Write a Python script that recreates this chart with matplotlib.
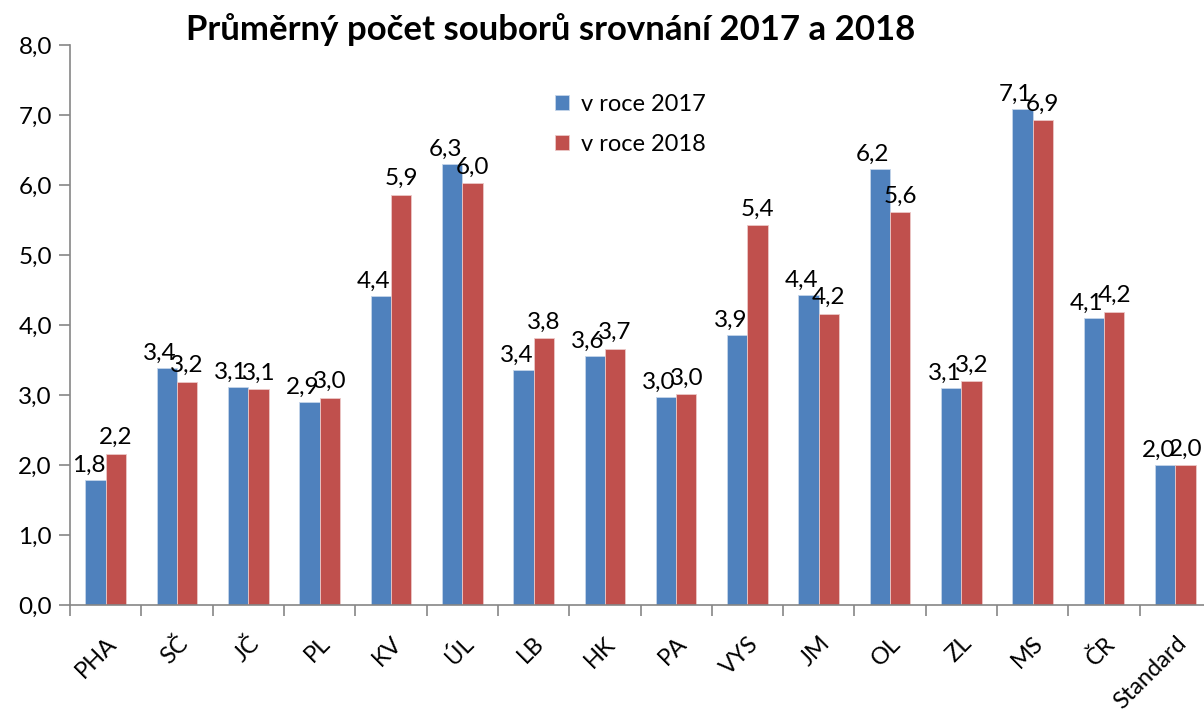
import numpy as np
import matplotlib
matplotlib.use("Agg")
import matplotlib.pyplot as plt
from matplotlib.ticker import FuncFormatter, FixedLocator

plt.rcParams['font.family'] = ['Lato', 'DejaVu Sans']

regions = ['PHA', 'SČ', 'JČ', 'PL', 'KV', 'ÚL', 'LB', 'HK', 'PA', 'VYS',
           'JM', 'OL', 'ZL', 'MS', 'ČR', 'Standard']
v2017 = [1.79, 3.38, 3.11, 2.90, 4.41, 6.30, 3.36, 3.56, 2.97, 3.86,
         4.43, 6.23, 3.10, 7.09, 4.10, 2.00]
v2018 = [2.16, 3.19, 3.08, 2.96, 5.86, 6.03, 3.81, 3.66, 3.01, 5.43,
         4.16, 5.61, 3.20, 6.93, 4.19, 2.00]

blue = '#4F81BD'
red = '#C0504D'
axis_gray = '#868686'

fig = plt.figure(figsize=(12.04, 7.11), dpi=100)
ax = fig.add_axes([70/1204, 1-605/711, 1141/1204, 560/711])

x = np.arange(len(regions))
w = 0.285
b1 = ax.bar(x - w/2, v2017, w, color=blue, edgecolor='#c5d5ea', linewidth=0.6, label='v roce 2017')
b2 = ax.bar(x + w/2, v2018, w, color=red, edgecolor='#ecc8c7', linewidth=0.6, label='v roce 2018')

def fmt(v):
    return f'{v:.1f}'.replace('.', ',')

for rect, v in zip(b1, v2017):
    ax.annotate(fmt(v), (rect.get_x() + rect.get_width()/2, v), xytext=(-5, 3),
                textcoords='offset points', ha='center', va='bottom', fontsize=17.5)
for rect, v in zip(b2, v2018):
    ax.annotate(fmt(v), (rect.get_x() + rect.get_width()/2, v), xytext=(0, 4),
                textcoords='offset points', ha='center', va='bottom', fontsize=17.5)

ax.set_xlim(-0.5, len(regions) - 0.5)
ax.set_ylim(0, 8)
ax.set_yticks(np.arange(0, 9, 1))
ax.yaxis.set_major_formatter(FuncFormatter(lambda v, p: fmt(v)))
ax.set_xticks(x)
ax.set_xticklabels(regions, rotation=45, ha='right', rotation_mode='anchor', fontsize=17)
ax.xaxis.set_minor_locator(FixedLocator(np.arange(-0.5, len(regions), 1)))
ax.tick_params(axis='x', which='major', length=0, pad=20)
ax.tick_params(axis='x', which='minor', length=8, color=axis_gray, width=1.2)
ax.tick_params(axis='y', length=8, color=axis_gray, width=1.2, labelsize=17.5, pad=5)

for s in ['top', 'right']:
    ax.spines[s].set_visible(False)
for s in ['left', 'bottom']:
    ax.spines[s].set_color(axis_gray)
    ax.spines[s].set_linewidth(1.2)

fig.text(551/1204, 1-30/711, 'Průměrný počet souborů srovnání 2017 a 2018',
         ha='center', va='center', fontsize=25, fontweight='bold')

ax.legend(loc='upper left', bbox_to_anchor=(534/1204, 1-73/711), bbox_transform=fig.transFigure,
          frameon=False, fontsize=17, handlelength=0.6, handleheight=0.6,
          handletextpad=0.5, labelspacing=0.8)

fig.savefig('out.png', dpi=100)
